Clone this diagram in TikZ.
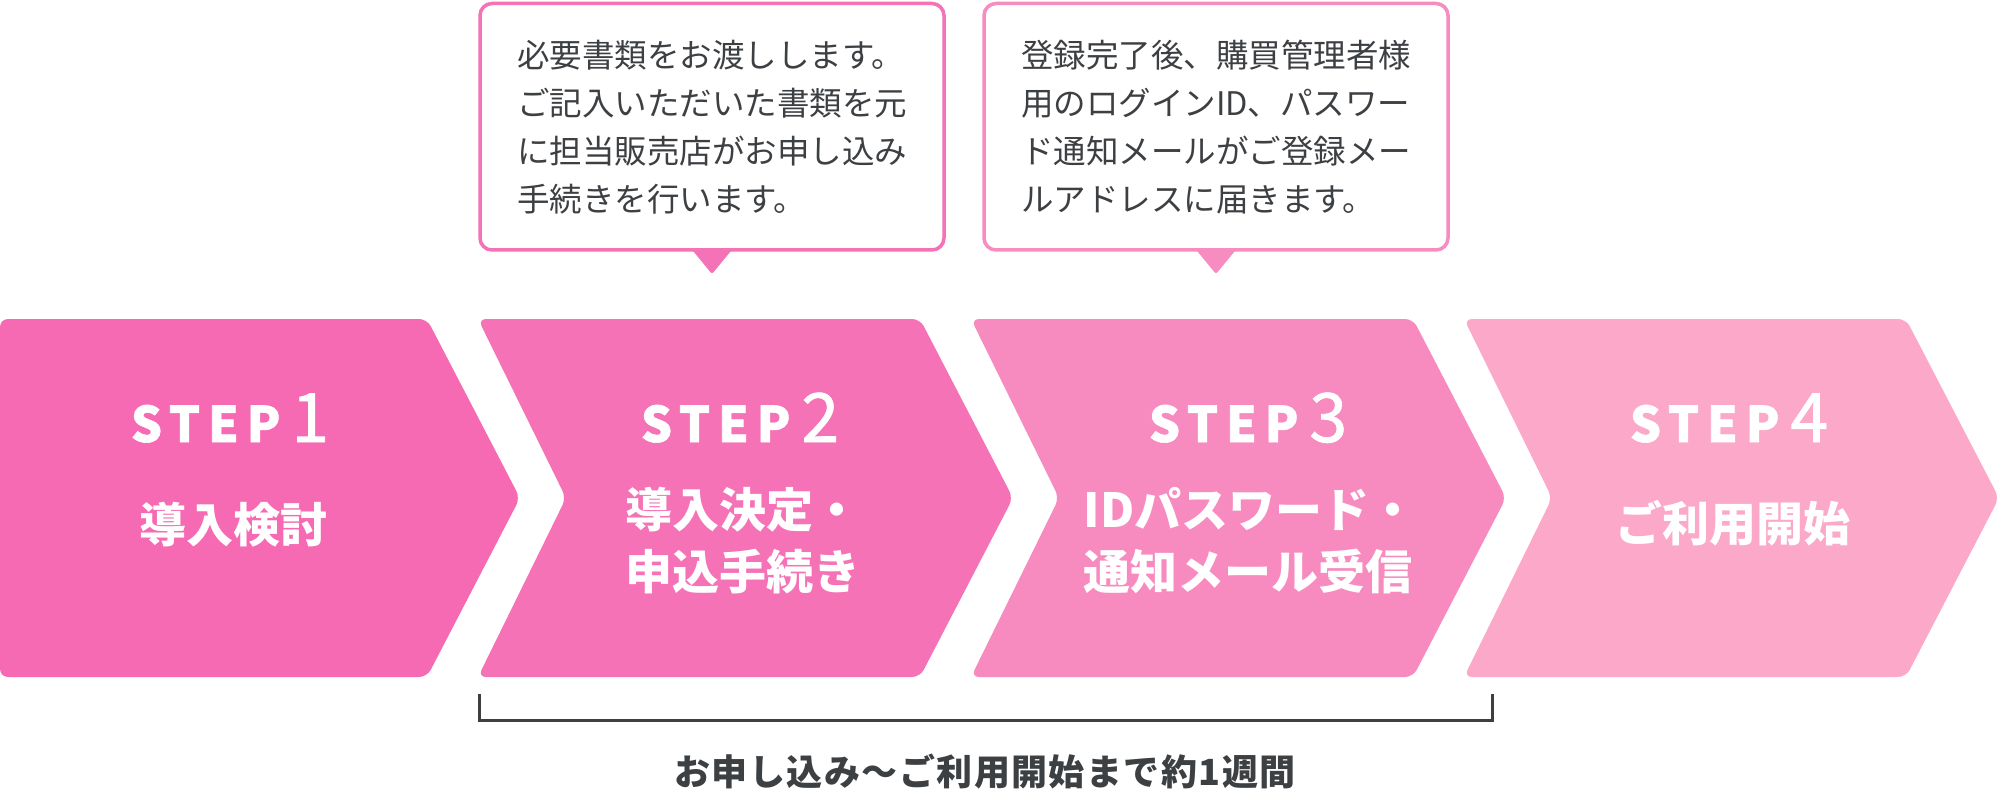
\documentclass[tikz,border=0pt]{standalone}
\usepackage{fontspec}
\usetikzlibrary{calc}
\newfontfamily\jp{Noto Sans CJK JP}
\newfontfamily\jpstep[LetterSpace=16,FakeBold=1.2]{Noto Sans CJK JP}
\newfontfamily\jpnum[FakeBold=1.2]{Noto Sans CJK JP}
\newfontfamily\jpbot[LetterSpace=4]{Noto Sans CJK JP}
\definecolor{cA}{HTML}{F56AB2}
\definecolor{cB}{HTML}{F572B7}
\definecolor{cC}{HTML}{F78BC0}
\definecolor{cD}{HTML}{FCA8C8}
\definecolor{bA}{HTML}{F472B6}
\definecolor{bB}{HTML}{F78CC0}
\definecolor{txt}{HTML}{3D4043}
\newcommand\steptext[1]{{\jpstep\bfseries\fontsize{49}{49}\selectfont STEP}\hspace{11pt}{\jpnum\fontsize{68}{68}\selectfont #1}}
\begin{document}
\begin{tikzpicture}[x=1pt,y=-1pt,
  chev/.style={rounded corners=8pt},
  steplbl/.style={text=white, inner sep=0pt, anchor=base},
  lbl/.style={text=white, inner sep=0pt, align=left, font={\jp\bfseries\fontsize{47}{62}\selectfont}},
  cbox/.style={draw, line width=3.5pt, rounded corners=12pt, fill=white, inner sep=0pt, outer sep=0pt,
    minimum width=464pt, minimum height=246.5pt, align=left, text=txt,
    font={\jp\fontsize{32.5}{48}\selectfont}},
  brk/.style={draw=txt, line width=3pt},
  bot/.style={text=txt, inner sep=0pt, font={\jpbot\bfseries\fontsize{36}{36}\selectfont}}]
\useasboundingbox (0,0) rectangle (1998,805);
% chevrons
\fill[cA, chev] (0,319) -- (427,319) -- (520,498) -- (427,677) -- (0,677) -- cycle;
\fill[cB, chev] (478,319) -- (920,319) -- (1013,498) -- (920,677) -- (478,677) -- (566,498) -- cycle;
\fill[cC, chev] (971,319) -- (1413,319) -- (1506,498) -- (1413,677) -- (971,677) -- (1059,498) -- cycle;
\fill[cD, chev] (1464,319) -- (1906,319) -- (1999,498) -- (1906,677) -- (1464,677) -- (1552,498) -- cycle;
% step titles
\node[steplbl] (s1) at (230,442) {\steptext{1}};
\node[steplbl] (s2) at (740,442) {\steptext{2}};
\node[steplbl] (s3) at (1248,442) {\steptext{3}};
\node[steplbl] (s4) at (1729,442) {\steptext{4}};
% step labels
\node[lbl] (l1) at (233,525) {導入検討};
\node[lbl] (l2) at (743,541) {導入決定・\\申込手続き};
\node[lbl] (l3) at (1250,541) {IDパスワード・\\通知メール受信};
\node[lbl] (l4) at (1733,523) {ご利用開始};
% callouts
\node[cbox, draw=bA] (b1) at (712,126.75) {必要書類をお渡しします。\\ご記入いただいた書類を元\\に担当販売店がお申し込み\\手続きを行います。};
\fill[bA, rounded corners=2pt] ($(b1.south)+(-21,-1.5)$) -- ($(b1.south)+(21,-1.5)$) -- ($(b1.south)+(0,24)$) -- cycle;
\node[cbox, draw=bB] (b2) at (1216,126.75) {登録完了後、購買管理者様\\用のログインID、パスワー\\ド通知メールがご登録メー\\ルアドレスに届きます。};
\fill[bB, rounded corners=2pt] ($(b2.south)+(-21,-1.5)$) -- ($(b2.south)+(21,-1.5)$) -- ($(b2.south)+(0,24)$) -- cycle;
% bracket
\coordinate (bl) at (479.5,694);
\coordinate (br) at (1492,694);
\draw[brk] (bl) -- ++(0,26) -| (br);
\node[bot] (note) at (985,772) {お申し込み～ご利用開始まで約1週間};
\end{tikzpicture}
\end{document}
